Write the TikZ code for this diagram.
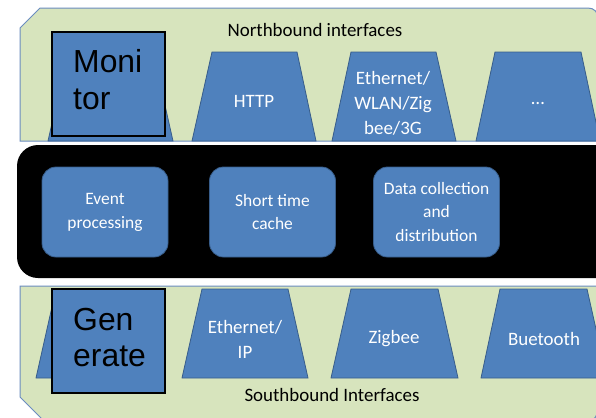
\documentclass[tikz,border=0pt]{standalone}
\usepackage{fontspec}
\setmainfont{Carlito}
\newfontfamily\arialf{Liberation Sans}
\definecolor{panelgreen}{HTML}{D7E4BD}
\definecolor{panelline}{HTML}{6A8CC0}
\definecolor{boxblue}{HTML}{4F81BD}
\definecolor{boxline}{HTML}{385D8A}
\begin{document}
\begin{tikzpicture}[x=1bp,y=-1bp,
  panel/.style={fill=panelgreen, draw=panelline, line width=1bp},
  trap/.style={fill=boxblue, draw=boxline, line width=0.8bp},
  innerbox/.style={fill=boxblue, draw=boxline, line width=0.8bp, rounded corners=14bp,
    minimum width=126bp, minimum height=90bp, text=white, align=center,
    font=\fontsize{17.5}{24}\selectfont, inner sep=0},
  ttext/.style={text=white, font=\fontsize{19}{25}\selectfont, align=center, inner sep=0},
  lbl/.style={text=black, font=\fontsize{19}{23}\selectfont, inner sep=0},
  bigbox/.style={fill=boxblue, draw=black, line width=1.3bp, minimum width=113bp, minimum height=104bp, inner sep=0},
  bigtext/.style={font=\arialf\fontsize{32}{37}\selectfont, align=left, inner sep=0, anchor=west}]
\useasboundingbox (0,0) rectangle (596,417);
\fill[white] (0,0) rectangle (596,417);
\clip (0,0) rectangle (596,417);
% top panel
\draw[panel] (20,141) -- (20,28) -- (40,8) -- (588,8) .. controls (594,8) and (598,12) .. (598,18) -- (598,141) -- cycle;
% bottom panel
\draw[panel] (20,286) -- (598,286) -- (598,408) .. controls (598,416) and (594,421) .. (588,421) -- (44,421) -- (20,397) -- cycle;
% black middle panel
\fill[black, rounded corners=21bp] (17,145) rectangle (640,278);
% top trapezoids
\draw[trap] (48,141) -- (68,52) -- (153,52) -- (173,141) -- cycle;
\draw[trap] (192,141) -- (212,52) -- (297,52) -- (316,141) -- cycle;
\draw[trap] (332,141) -- (351,52) -- (436,52) -- (456,141) -- cycle;
\draw[trap] (476,141) -- (495,52) -- (581,52) -- (600,141) -- cycle;
% bottom trapezoids
\draw[trap] (36,378) -- (56,289) -- (141,289) -- (161,378) -- cycle;
\draw[trap] (182,378) -- (202,289) -- (288,289) -- (308,378) -- cycle;
\draw[trap] (331,378) -- (351,289) -- (438,289) -- (458,378) -- cycle;
\draw[trap] (481,378) -- (500,289) -- (587,289) -- (607,378) -- cycle;
% labels
\node[lbl] (north) at (315,30) {Northbound interfaces};
\node[lbl] (south) at (332,395) {Southbound Interfaces};
\node[ttext] (http) at (254,101) {HTTP};
\node[ttext] (eth) at (393,103) {Ethernet/\\WLAN/Zig\\bee/3G};
\node[ttext] (more) at (538,103) {…};
\node[ttext] (ethip) at (245,339) {Ethernet/\\IP};
\node[ttext] (zig) at (394,339) {Zigbee};
\node[ttext] (bt) at (544,339) {Buetooth};
% inner boxes
\node[innerbox] (event) at (105,212) {Event\\processing};
\node[innerbox] (cache) at (272.5,212) {Short time\\cache};
\node[innerbox] (data) at (436.5,212) {Data collection\\and\\distribution};
% monitor / generate
\node[bigbox] (monitor) at (108.5,84) {};
\node[bigtext] (monitortext) at (73,80) {Moni\\tor};
\node[bigbox] (generate) at (108.5,341) {};
\node[bigtext] (generatetext) at (73,337.5) {Gen\\erate};
\end{tikzpicture}
\end{document}
